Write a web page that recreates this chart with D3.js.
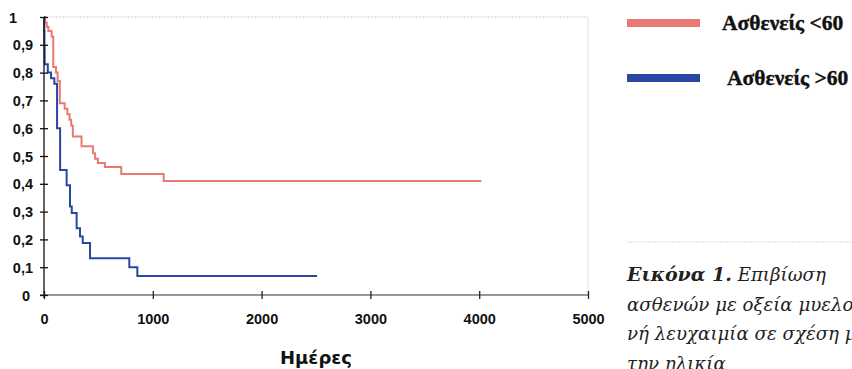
<!DOCTYPE html>
<html>
<head>
<meta charset="utf-8">
<script src="https://cdn.jsdelivr.net/npm/d3@7/dist/d3.min.js"></script>
<style>
  html, body { margin: 0; padding: 0; background: #fff; }
  svg { display: block; }
</style>
</head>
<body>
<svg id="chart" width="852" height="369"></svg>
<script>
// ---- data ----
const xTicks = [0, 1000, 2000, 3000, 4000, 5000];
const yTicks = [0, 0.1, 0.2, 0.3, 0.4, 0.5, 0.6, 0.7, 0.8, 0.9, 1];
const xTitle = "Ημέρες";
const seriesNames = ["Ασθενείς <60", "Ασθενείς >60"];
const seriesColors = ["#e97a72", "#2847a3"];

// Kaplan–Meier steps: day of each step and survival after it
const under60Days = [0, 10, 25, 40, 70, 85, 110, 125, 145, 190, 215, 235, 250, 265, 345, 450, 470, 495, 560, 710, 1100, 4020];
const under60Surv = [1, 0.98, 0.965, 0.95, 0.93, 0.82, 0.80, 0.77, 0.69, 0.67, 0.65, 0.63, 0.61, 0.57, 0.535, 0.51, 0.49, 0.475, 0.46, 0.435, 0.41, 0.41];
const over60Days = [0, 2, 4, 6, 35, 65, 95, 120, 148, 208, 239, 255, 300, 331, 356, 423, 784, 858, 2510];
const over60Surv = [1, 0.95, 0.9, 0.83, 0.80, 0.78, 0.76, 0.60, 0.45, 0.395, 0.318, 0.295, 0.24, 0.21, 0.187, 0.132, 0.10, 0.068, 0.068];

const captionLines = [
  [{t: "Εικόνα 1.", b: true}, {t: " Επιβίωση", b: false}],
  [{t: "ασθενών με οξεία μυελογε-", b: false}],
  [{t: "νή λευχαιμία σε σχέση με", b: false}],
  [{t: "την ηλικία", b: false}]
];

// ---- layout ----
const svg = d3.select("#chart");
const x = d3.scaleLinear().domain([0, 5000]).range([44, 588]);
const y = d3.scaleLinear().domain([0, 1]).range([295, 17]);

// top gridline at 1 and right frame (faint)
svg.append("line").attr("x1", x(0)).attr("x2", x(5000)).attr("y1", y(1)).attr("y2", y(1))
  .attr("stroke", "#cfcfcf").attr("stroke-width", 1).attr("stroke-dasharray", "2,1");
svg.append("line").attr("x1", x(5000)).attr("x2", x(5000)).attr("y1", y(1)).attr("y2", y(0))
  .attr("stroke", "#e2e2e2").attr("stroke-width", 1);

// curves
const line = d3.line().x(d => x(d[0])).y(d => y(d[1])).curve(d3.curveStepAfter);
const series = [
  d3.zip(under60Days, under60Surv),
  d3.zip(over60Days, over60Surv)
];
series.forEach((s, i) => {
  svg.append("path").datum(s).attr("d", line)
    .attr("fill", "none").attr("stroke", seriesColors[i]).attr("stroke-width", 2);
});

// x axis
const xAxis = svg.append("g").attr("transform", `translate(0,${y(0)})`)
  .call(d3.axisBottom(x).tickValues(xTicks).tickSize(4).tickFormat(d3.format("d")));
xAxis.select(".domain").attr("d", `M${x(0) - 4},0H${x(5000)}`).attr("stroke", "#333").attr("stroke-width", 1.2);
xAxis.selectAll(".tick line").attr("y1", -4).attr("y2", 4).attr("stroke", "#222").attr("stroke-width", 1.3);
xAxis.selectAll(".tick text").attr("y", 29).attr("dy", 0)
  .attr("font-family", "'Liberation Sans', Arial, sans-serif").attr("font-size", 14.5)
  .attr("font-weight", "bold").attr("fill", "#111");

// y axis
const fmtY = d => d === 0 ? "0" : d === 1 ? "1" : d3.format(".1f")(d).replace(".", ",");
const yAxis = svg.append("g").attr("transform", `translate(${x(0)},0)`)
  .call(d3.axisLeft(y).tickValues(yTicks).tickSize(4).tickFormat(fmtY));
yAxis.select(".domain").attr("d", `M0,${y(1)}V${y(0) + 3}`).attr("stroke", "#111").attr("stroke-width", 1.3);
yAxis.selectAll(".tick line").attr("x1", -4).attr("x2", 4).attr("stroke", "#111").attr("stroke-width", 1.3);
yAxis.selectAll(".tick text")
  .attr("x", d => d === 1 ? -27 : d === 0 ? -14 : -11).attr("dy", "0.35em")
  .attr("font-family", "'Liberation Sans', Arial, sans-serif").attr("font-size", 14.5)
  .attr("font-weight", "bold").attr("fill", "#111");
svg.selectAll(".domain").attr("fill", "none");

// x title
svg.append("text").attr("x", 316).attr("y", 364).attr("text-anchor", "middle")
  .attr("font-family", "'DejaVu Sans', Verdana, sans-serif").attr("font-weight", "bold")
  .attr("font-size", 18).attr("fill", "#111").text(xTitle);

// legend
const legY = [23, 78];
const legTextX = [722, 727];
seriesNames.forEach((name, i) => {
  svg.append("rect").attr("x", 627).attr("y", legY[i] - 4).attr("width", 73).attr("height", 8)
    .attr("fill", seriesColors[i]);
  svg.append("text").attr("x", legTextX[i]).attr("y", legY[i] + 7)
    .attr("font-family", "'Liberation Serif', 'Times New Roman', serif").attr("font-weight", "bold")
    .attr("font-size", 21.5).attr("fill", "#111").attr("stroke", "#111").attr("stroke-width", 0.4)
    .text(name);
});

// caption separator and caption
svg.append("line").attr("x1", 627).attr("x2", 852).attr("y1", 242).attr("y2", 242)
  .attr("stroke", "#d8d8d8").attr("stroke-width", 1).attr("stroke-dasharray", "2,1");
captionLines.forEach((parts, i) => {
  const t = svg.append("text").attr("x", 627).attr("y", 281 + i * 29.5)
    .attr("font-family", "'DejaVu Serif', serif").attr("font-style", "italic")
    .attr("font-size", 18.2).attr("fill", "#222");
  parts.forEach(p => t.append("tspan").attr("font-weight", p.b ? "bold" : "normal")
    .attr("font-size", p.b ? 19 : null).text(p.t));
});
</script>
</body>
</html>
